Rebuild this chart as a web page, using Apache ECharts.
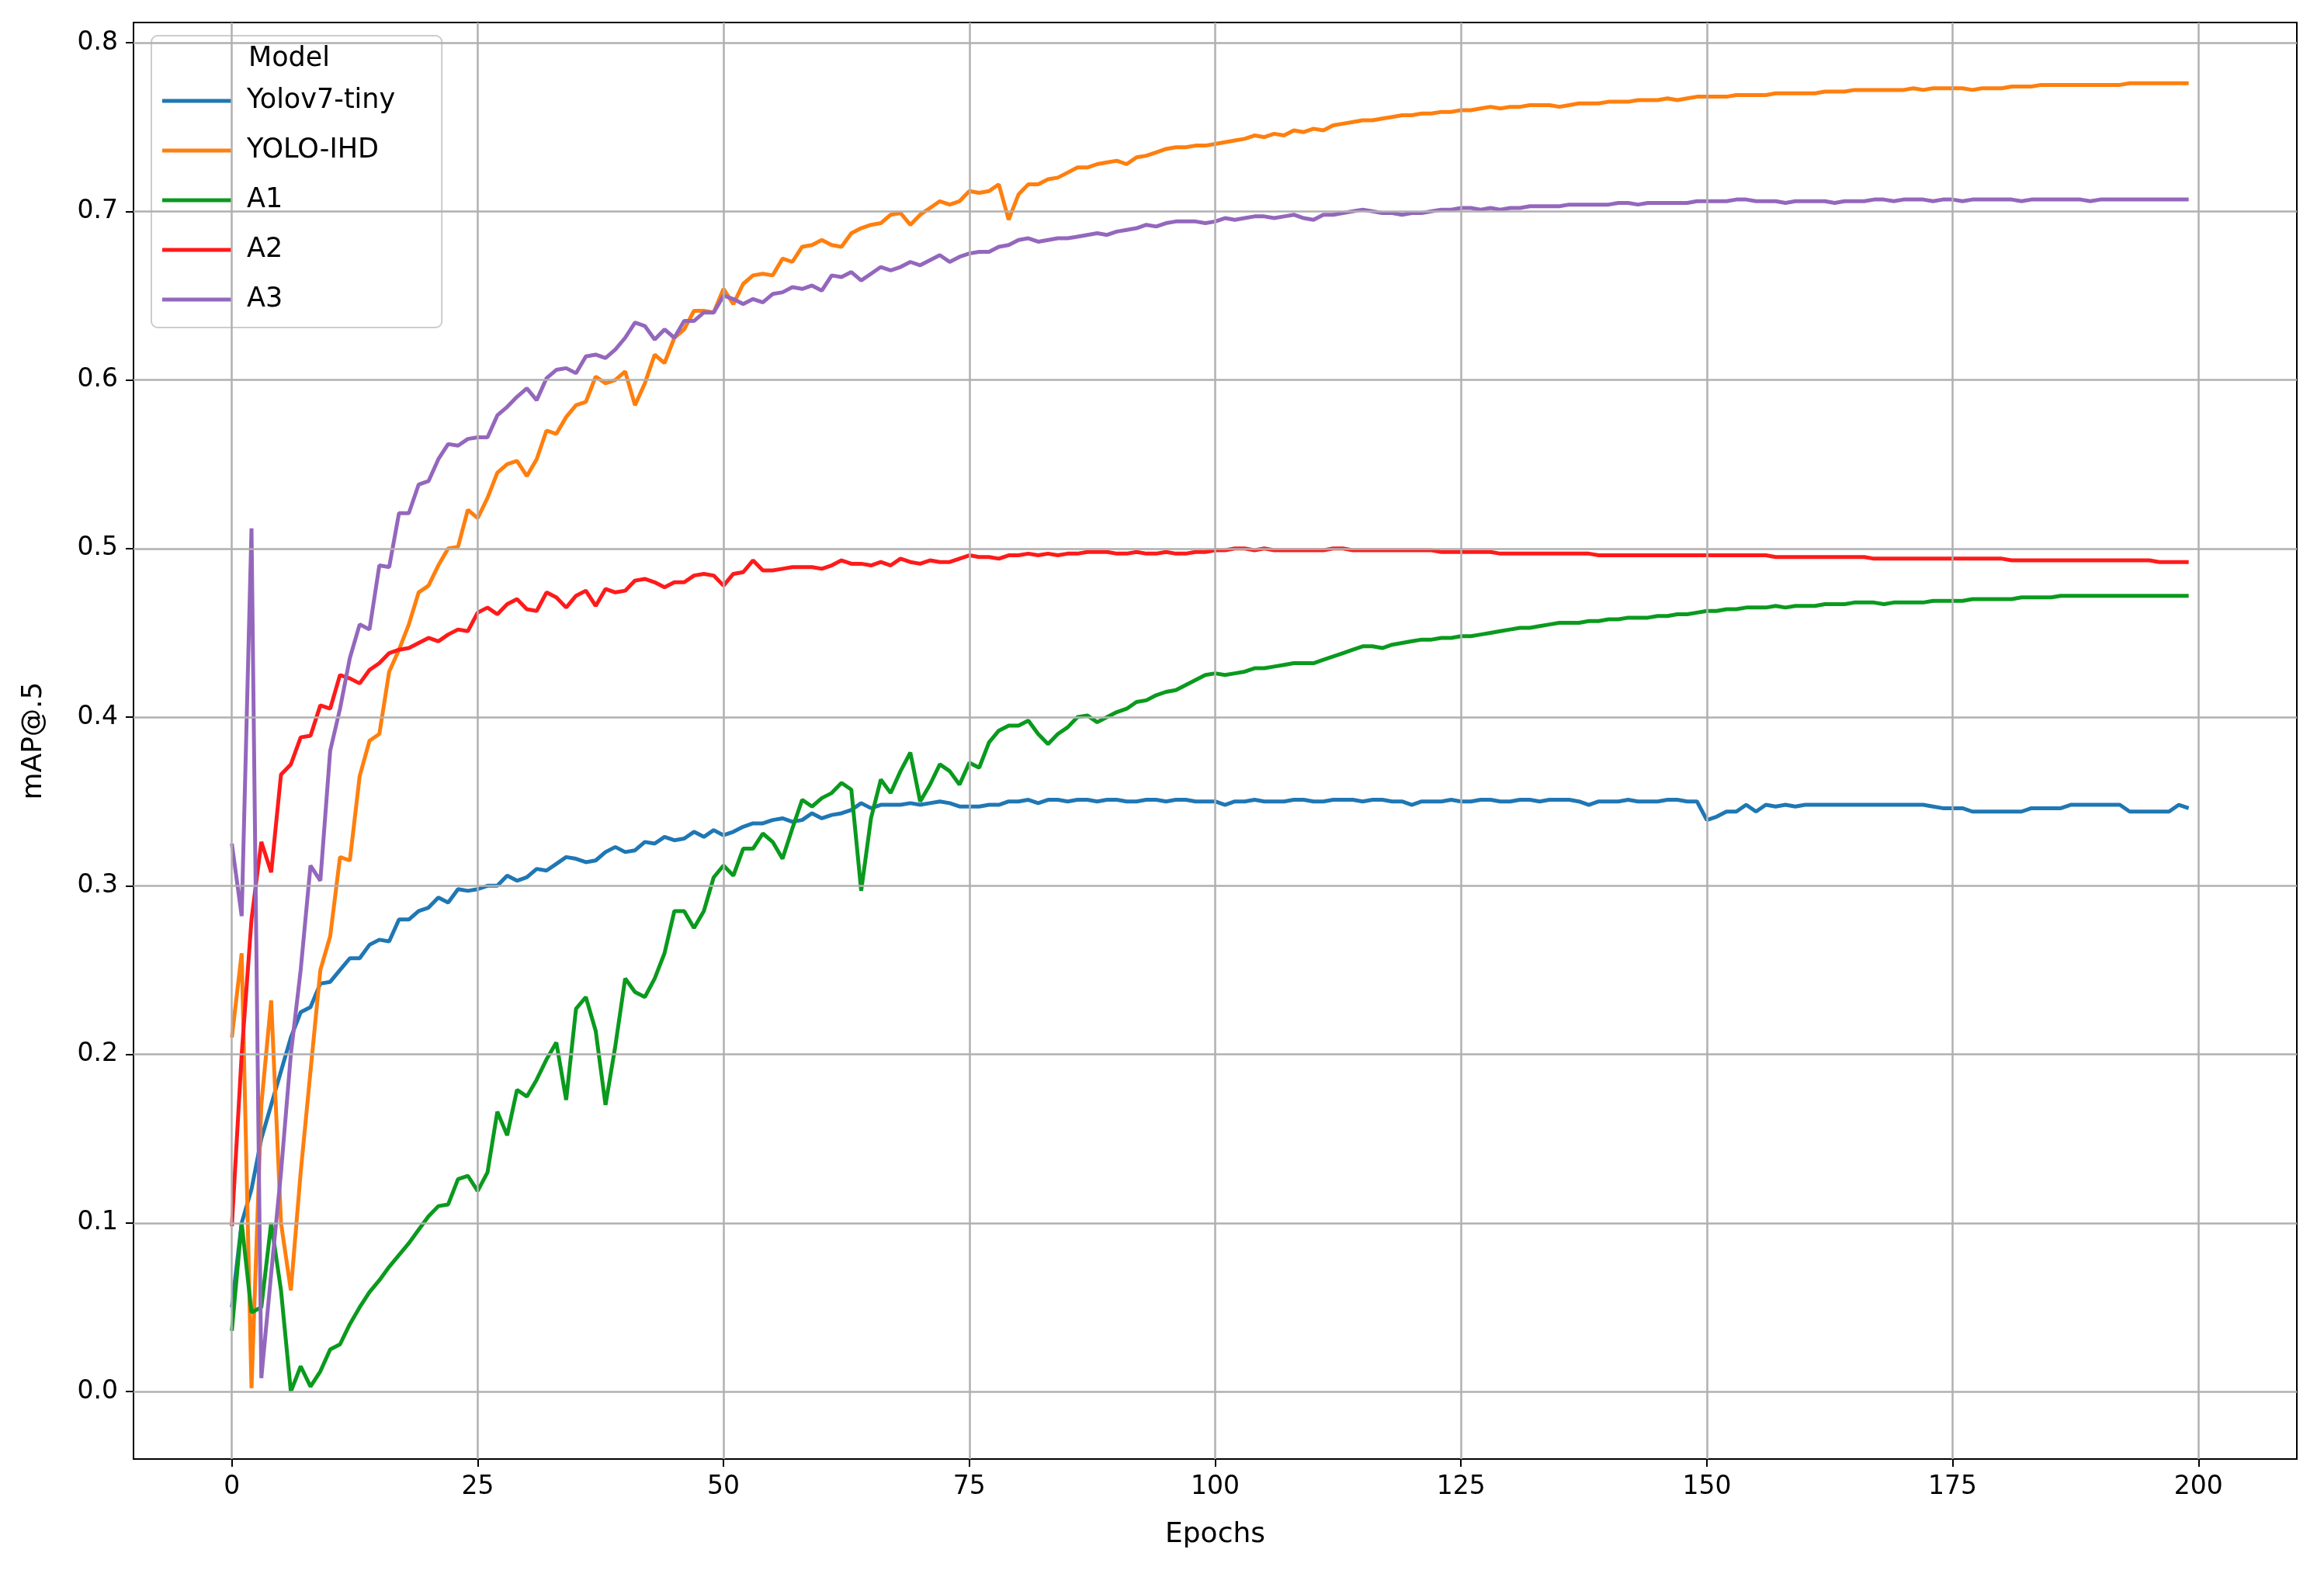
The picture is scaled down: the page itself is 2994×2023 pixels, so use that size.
<!DOCTYPE html>
<html><head><meta charset="utf-8">
<script src="https://cdn.jsdelivr.net/npm/echarts@6/dist/echarts.min.js"></script>
<style>html,body{margin:0;padding:0;background:#fff}#c{width:2994px;height:2023px}</style>
</head><body><div id="c"></div>
<script>
const seriesNames = ['Yolov7-tiny','YOLO-IHD','A1','A2','A3'];
const xTicks = [0,25,50,75,100,125,150,175,200];
const yTicks = [0.0,0.1,0.2,0.3,0.4,0.5,0.6,0.7,0.8];
const yolov7tiny = [
0.050,0.100,0.120,0.150,0.170,0.190,0.210,0.225,0.228,0.242,0.243,0.250,0.257,0.257,0.265,0.268,0.267,0.280,0.280,0.285,
0.287,0.293,0.290,0.298,0.297,0.298,0.300,0.300,0.306,0.303,0.305,0.310,0.309,0.313,0.317,0.316,0.314,0.315,0.320,0.323,
0.320,0.321,0.326,0.325,0.329,0.327,0.328,0.332,0.329,0.333,0.330,0.332,0.335,0.337,0.337,0.339,0.340,0.338,0.339,0.343,
0.340,0.342,0.343,0.345,0.349,0.346,0.348,0.348,0.348,0.349,0.348,0.349,0.350,0.349,0.347,0.347,0.347,0.348,0.348,0.350,
0.350,0.351,0.349,0.351,0.351,0.350,0.351,0.351,0.350,0.351,0.351,0.350,0.350,0.351,0.351,0.350,0.351,0.351,0.350,0.350,
0.350,0.348,0.350,0.350,0.351,0.350,0.350,0.350,0.351,0.351,0.350,0.350,0.351,0.351,0.351,0.350,0.351,0.351,0.350,0.350,
0.348,0.350,0.350,0.350,0.351,0.350,0.350,0.351,0.351,0.350,0.350,0.351,0.351,0.350,0.351,0.351,0.351,0.350,0.348,0.350,
0.350,0.350,0.351,0.350,0.350,0.350,0.351,0.351,0.350,0.350,0.339,0.341,0.344,0.344,0.348,0.344,0.348,0.347,0.348,0.347,
0.348,0.348,0.348,0.348,0.348,0.348,0.348,0.348,0.348,0.348,0.348,0.348,0.348,0.347,0.346,0.346,0.346,0.344,0.344,0.344,
0.344,0.344,0.344,0.346,0.346,0.346,0.346,0.348,0.348,0.348,0.348,0.348,0.348,0.344,0.344,0.344,0.344,0.344,0.348,0.346];
const yoloIHD = [
0.210,0.260,0.002,0.170,0.232,0.100,0.060,0.130,0.190,0.250,0.270,0.317,0.315,0.365,0.386,0.390,0.427,0.440,0.455,0.474,
0.478,0.490,0.500,0.501,0.523,0.518,0.530,0.545,0.550,0.552,0.543,0.553,0.570,0.568,0.578,0.585,0.587,0.602,0.598,0.600,
0.605,0.585,0.598,0.615,0.610,0.625,0.630,0.641,0.641,0.640,0.654,0.645,0.657,0.662,0.663,0.662,0.672,0.670,0.679,0.680,
0.683,0.680,0.679,0.687,0.690,0.692,0.693,0.698,0.699,0.692,0.698,0.702,0.706,0.704,0.706,0.712,0.711,0.712,0.716,0.695,
0.710,0.716,0.716,0.719,0.720,0.723,0.726,0.726,0.728,0.729,0.730,0.728,0.732,0.733,0.735,0.737,0.738,0.738,0.739,0.739,
0.740,0.741,0.742,0.743,0.745,0.744,0.746,0.745,0.748,0.747,0.749,0.748,0.751,0.752,0.753,0.754,0.754,0.755,0.756,0.757,
0.757,0.758,0.758,0.759,0.759,0.760,0.760,0.761,0.762,0.761,0.762,0.762,0.763,0.763,0.763,0.762,0.763,0.764,0.764,0.764,
0.765,0.765,0.765,0.766,0.766,0.766,0.767,0.766,0.767,0.768,0.768,0.768,0.768,0.769,0.769,0.769,0.769,0.770,0.770,0.770,
0.770,0.770,0.771,0.771,0.771,0.772,0.772,0.772,0.772,0.772,0.772,0.773,0.772,0.773,0.773,0.773,0.773,0.772,0.773,0.773,
0.773,0.774,0.774,0.774,0.775,0.775,0.775,0.775,0.775,0.775,0.775,0.775,0.775,0.776,0.776,0.776,0.776,0.776,0.776,0.776];
const a1 = [
0.036,0.100,0.047,0.050,0.100,0.060,0.000,0.015,0.003,0.012,0.025,0.028,0.040,0.050,0.059,0.066,0.074,0.081,0.088,0.096,
0.104,0.110,0.111,0.126,0.128,0.119,0.130,0.166,0.152,0.179,0.175,0.185,0.197,0.207,0.173,0.227,0.234,0.214,0.170,0.205,
0.245,0.237,0.234,0.245,0.260,0.285,0.285,0.275,0.285,0.305,0.312,0.306,0.322,0.322,0.331,0.326,0.316,0.334,0.351,0.347,
0.352,0.355,0.361,0.357,0.297,0.340,0.363,0.355,0.368,0.379,0.350,0.360,0.372,0.368,0.360,0.373,0.370,0.385,0.392,0.395,
0.395,0.398,0.390,0.384,0.390,0.394,0.400,0.401,0.397,0.400,0.403,0.405,0.409,0.410,0.413,0.415,0.416,0.419,0.422,0.425,
0.426,0.425,0.426,0.427,0.429,0.429,0.430,0.431,0.432,0.432,0.432,0.434,0.436,0.438,0.440,0.442,0.442,0.441,0.443,0.444,
0.445,0.446,0.446,0.447,0.447,0.448,0.448,0.449,0.450,0.451,0.452,0.453,0.453,0.454,0.455,0.456,0.456,0.456,0.457,0.457,
0.458,0.458,0.459,0.459,0.459,0.460,0.460,0.461,0.461,0.462,0.463,0.463,0.464,0.464,0.465,0.465,0.465,0.466,0.465,0.466,
0.466,0.466,0.467,0.467,0.467,0.468,0.468,0.468,0.467,0.468,0.468,0.468,0.468,0.469,0.469,0.469,0.469,0.470,0.470,0.470,
0.470,0.470,0.471,0.471,0.471,0.471,0.472,0.472,0.472,0.472,0.472,0.472,0.472,0.472,0.472,0.472,0.472,0.472,0.472,0.472];
const a2 = [
0.098,0.200,0.280,0.326,0.308,0.366,0.372,0.388,0.389,0.407,0.405,0.425,0.423,0.420,0.428,0.432,0.438,0.440,0.441,0.444,
0.447,0.445,0.449,0.452,0.451,0.462,0.465,0.461,0.467,0.470,0.464,0.463,0.474,0.471,0.465,0.472,0.475,0.466,0.476,0.474,
0.475,0.481,0.482,0.480,0.477,0.480,0.480,0.484,0.485,0.484,0.478,0.485,0.486,0.493,0.487,0.487,0.488,0.489,0.489,0.489,
0.488,0.490,0.493,0.491,0.491,0.490,0.492,0.490,0.494,0.492,0.491,0.493,0.492,0.492,0.494,0.496,0.495,0.495,0.494,0.496,
0.496,0.497,0.496,0.497,0.496,0.497,0.497,0.498,0.498,0.498,0.497,0.497,0.498,0.497,0.497,0.498,0.497,0.497,0.498,0.498,
0.499,0.499,0.500,0.500,0.499,0.500,0.499,0.499,0.499,0.499,0.499,0.499,0.500,0.500,0.499,0.499,0.499,0.499,0.499,0.499,
0.499,0.499,0.499,0.498,0.498,0.498,0.498,0.498,0.498,0.497,0.497,0.497,0.497,0.497,0.497,0.497,0.497,0.497,0.497,0.496,
0.496,0.496,0.496,0.496,0.496,0.496,0.496,0.496,0.496,0.496,0.496,0.496,0.496,0.496,0.496,0.496,0.496,0.495,0.495,0.495,
0.495,0.495,0.495,0.495,0.495,0.495,0.495,0.494,0.494,0.494,0.494,0.494,0.494,0.494,0.494,0.494,0.494,0.494,0.494,0.494,
0.494,0.493,0.493,0.493,0.493,0.493,0.493,0.493,0.493,0.493,0.493,0.493,0.493,0.493,0.493,0.493,0.492,0.492,0.492,0.492];
const a3 = [
0.325,0.282,0.512,0.008,0.070,0.130,0.200,0.250,0.312,0.303,0.380,0.405,0.435,0.455,0.452,0.490,0.489,0.521,0.521,0.538,
0.540,0.553,0.562,0.561,0.565,0.566,0.566,0.579,0.584,0.590,0.595,0.588,0.601,0.606,0.607,0.604,0.614,0.615,0.613,0.618,
0.625,0.634,0.632,0.624,0.630,0.625,0.635,0.635,0.640,0.640,0.650,0.648,0.645,0.648,0.646,0.651,0.652,0.655,0.654,0.656,
0.653,0.662,0.661,0.664,0.659,0.663,0.667,0.665,0.667,0.670,0.668,0.671,0.674,0.670,0.673,0.675,0.676,0.676,0.679,0.680,
0.683,0.684,0.682,0.683,0.684,0.684,0.685,0.686,0.687,0.686,0.688,0.689,0.690,0.692,0.691,0.693,0.694,0.694,0.694,0.693,
0.694,0.696,0.695,0.696,0.697,0.697,0.696,0.697,0.698,0.696,0.695,0.698,0.698,0.699,0.700,0.701,0.700,0.699,0.699,0.698,
0.699,0.699,0.700,0.701,0.701,0.702,0.702,0.701,0.702,0.701,0.702,0.702,0.703,0.703,0.703,0.703,0.704,0.704,0.704,0.704,
0.704,0.705,0.705,0.704,0.705,0.705,0.705,0.705,0.705,0.706,0.706,0.706,0.706,0.707,0.707,0.706,0.706,0.706,0.705,0.706,
0.706,0.706,0.706,0.705,0.706,0.706,0.706,0.707,0.707,0.706,0.707,0.707,0.707,0.706,0.707,0.707,0.706,0.707,0.707,0.707,
0.707,0.707,0.706,0.707,0.707,0.707,0.707,0.707,0.707,0.706,0.707,0.707,0.707,0.707,0.707,0.707,0.707,0.707,0.707,0.707];
const colors = ['#1f77b4','#ff7f0e','#0a9a1e','#ff1a1a','#9467bd'];
const allData = [yolov7tiny, yoloIHD, a1, a2, a3];

const chart = echarts.init(document.getElementById('c'));
const F = 'DejaVu Sans';
const gridLines = xTicks.map(v=>({xAxis:v})).concat(yTicks.map(v=>({yAxis:v})));
const series = [{
  type:'line', data:[], silent:true, z:1,
  markLine:{silent:true,symbol:['none','none'],label:{show:false},animation:false,
    lineStyle:{color:'#b0b0b0',width:2.5,type:'solid'},data:gridLines}
}].concat(seriesNames.map((n,i)=>({name:n,type:'line',showSymbol:false,symbol:'none',z:3,
    data: allData[i].map((v,j)=>[j,v]),
    lineStyle:{color:colors[i],width:5},itemStyle:{color:colors[i]}})));
chart.setOption({
  backgroundColor:'#fff',
  animation:false,
  grid:{left:172,right:35,top:29,bottom:143,show:true,borderColor:'#000',borderWidth:2,backgroundColor:'transparent'},
  xAxis:{type:'value',min:-10,max:210,
    name:'Epochs',nameLocation:'middle',nameGap:80,
    nameTextStyle:{fontFamily:F,fontSize:36,color:'#000'},
    axisLine:{onZero:false,lineStyle:{color:'#000',width:2}},
    axisTick:{customValues:xTicks,length:10,lineStyle:{color:'#000',width:2}},
    axisLabel:{customValues:xTicks,fontFamily:F,fontSize:33,color:'#000',margin:20},
    splitLine:{show:false}},
  yAxis:{type:'value',min:-0.04,max:0.812,
    name:'mAP@.5',nameLocation:'middle',nameGap:110,
    nameTextStyle:{fontFamily:F,fontSize:36,color:'#000'},
    axisLine:{show:true,onZero:false,lineStyle:{color:'#000',width:2}},
    axisTick:{show:true,customValues:yTicks,length:10,lineStyle:{color:'#000',width:2}},
    axisLabel:{customValues:yTicks,fontFamily:F,fontSize:33,color:'#000',margin:20,formatter:v=>v.toFixed(1)},
    splitLine:{show:false}},
  legend:{orient:'vertical',left:195,top:46,
    padding:[64,60,16,14],itemGap:24,itemWidth:90,itemHeight:5,
    backgroundColor:'rgba(255,255,255,0.85)',borderColor:'#cccccc',borderWidth:2,borderRadius:8,
    icon:'rect',
    textStyle:{fontFamily:F,fontSize:35,color:'#000',padding:[0,0,0,14],lineHeight:40},
    data:seriesNames},
  graphic:[{type:'text',left:320,top:58,z:100,style:{text:'Model',fontFamily:F,fontSize:35,fill:'#000'}}],
  series: series
});
</script></body></html>
